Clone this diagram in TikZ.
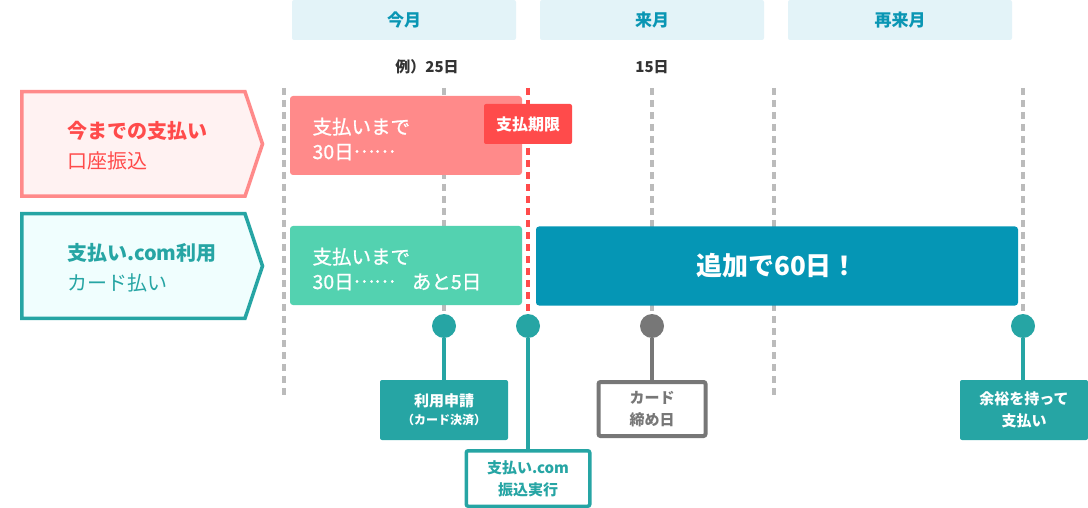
\documentclass[tikz,border=0pt]{standalone}
\usepackage{fontspec}
\setmainfont{Noto Sans CJK JP}
\newfontfamily\barfont[FakeBold=1]{Noto Sans CJK JP}
\definecolor{pinkline}{HTML}{FF8A8A}
\definecolor{pinkfill}{HTML}{FFF2F2}
\definecolor{redc}{HTML}{FF4B4B}
\definecolor{tealc}{HTML}{26A5A4}
\definecolor{tealfill}{HTML}{F0FEFE}
\definecolor{greenbar}{HTML}{53D2B0}
\definecolor{bluebar}{HTML}{0596B5}
\definecolor{hdrfill}{HTML}{E3F3F8}
\definecolor{hdrtext}{HTML}{0A96B4}
\definecolor{dashgray}{HTML}{BBBBBB}
\definecolor{darkgray}{HTML}{777777}
\definecolor{textdark}{HTML}{333333}
\newcommand{\midellip}{\raisebox{0.33em}{……}}
\begin{document}
\begin{tikzpicture}[x=1pt,y=-1pt,
  hdr/.style={fill=hdrfill, rounded corners=2pt, minimum width=224pt, minimum height=40pt, inner sep=0pt, text=hdrtext, font=\fontsize{17}{20}\selectfont\bfseries},
  daylbl/.style={text=textdark, font=\fontsize{15}{17}\selectfont\bfseries, inner sep=0pt},
  vdash/.style={draw=dashgray, line width=4pt, dash pattern=on 7pt off 5pt},
  reddash/.style={draw=redc, line width=4pt, dash pattern=on 7pt off 5pt},
  pent/.style={line width=3.5pt, line join=miter},
  penttext/.style={anchor=west, align=left, inner sep=0pt, font=\fontsize{20}{30}\selectfont},
  bar/.style={rounded corners=3pt, minimum height=79pt, inner sep=0pt, text=white},
  bartext/.style={align=left, font=\barfont\fontsize{19.5}{25}\selectfont},
  dot/.style={circle, minimum size=24pt, inner sep=0pt},
  conn/.style={line width=4pt},
  evbox/.style={rounded corners=2pt, inner sep=0pt, align=center, font=\fontsize{15}{22}\selectfont\bfseries},
]
\useasboundingbox (0,0) rectangle (1088,508);

% month headers
\node[hdr] (m1) at (404,20) {今月};
\node[hdr] (m2) at (652,20) {来月};
\node[hdr] (m3) at (900,20) {再来月};

\node[daylbl] (d1) at (427,67) {例）25日};
\node[daylbl] (d2) at (652,67) {15日};

% dashed guide lines
\coordinate (g1t) at (284,88); \coordinate (g1b) at (284,395);
\coordinate (g2t) at (444,88); \coordinate (g2b) at (444,395);
\coordinate (g3t) at (652,88); \coordinate (g3b) at (652,330);
\coordinate (g4t) at (774,88); \coordinate (g4b) at (774,395);
\coordinate (g5t) at (1023,88); \coordinate (g5b) at (1023,330);
\coordinate (rdt) at (528,88); \coordinate (rdb) at (528,318);
\draw[vdash] (g1t) -- (g1b);
\draw[vdash] (g2t) -- (g2b);
\draw[vdash] (g3t) -- (g3b);
\draw[vdash] (g4t) -- (g4b);
\draw[vdash] (g5t) -- (g5b);
\draw[reddash] (rdt) -- (rdb);

% left labels (pentagons)
\draw[pent, draw=pinkline, fill=pinkfill] (21.75,91.75) -- (245,91.75) -- (262.5,144) -- (245,196.25) -- (21.75,196.25) -- cycle;
\node[penttext, text=redc] (p1) at (67,146) {\textbf{今までの支払い}\\口座振込};
\draw[pent, draw=tealc, fill=tealfill] (21.75,213.75) -- (245,213.75) -- (262.5,266) -- (245,318.25) -- (21.75,318.25) -- cycle;
\node[penttext, text=tealc] (p2) at (67,268) {\textbf{支払い.com利用}\\カード払い};

% bars
\node[bar, fill=pinkline, minimum width=232pt] (pb) at (406,135.5) {};
\node[bartext, text=white, anchor=west] (pbt) at (309,139) {支払いまで\\30日\midellip};
\node[rounded corners=2pt, fill=redc, minimum width=88pt, minimum height=40pt, inner sep=0pt, text=white, font=\fontsize{16}{18}\selectfont\bfseries] (lim) at (528,124) {支払期限};

\node[bar, fill=greenbar, minimum width=232pt] (gb) at (406,265.5) {};
\node[bartext, text=white, anchor=west] (gbt) at (309,269) {支払いまで\\30日\midellip\hspace{17pt}あと5日};

\node[bar, fill=bluebar, minimum width=482pt, font=\fontsize{26}{30}\selectfont\bfseries] (bb) at (777,266) {追加で60日！};

% event dots
\node[dot, fill=tealc] (c1) at (444,326) {};
\node[dot, fill=tealc] (c2) at (528,326) {};
\node[dot, fill=darkgray] (c3) at (652,326) {};
\node[dot, fill=tealc] (c4) at (1023,326) {};

% event boxes
\node[evbox, fill=tealc, text=white, minimum width=128pt, minimum height=60pt] (b1) at (444,410) {利用申請\\[-4pt]{\fontsize{12}{14}\selectfont （カード決済）}};
\node[evbox, draw=tealc, line width=3.5pt, fill=white, text=tealc, minimum width=123.5pt, minimum height=55.5pt] (b2) at (528,478.5) {支払い.com\\振込実行};
\node[evbox, draw=darkgray, line width=4pt, fill=white, text=darkgray, minimum width=107pt, minimum height=54pt] (b3) at (652,409) {カード\\締め日};
\node[evbox, fill=tealc, text=white, minimum width=128pt, minimum height=60pt] (b4) at (1024,410) {余裕を持って\\支払い};

% connectors
\draw[conn, tealc] (c1) -- (b1);
\draw[conn, tealc] (c2) -- (b2);
\draw[conn, darkgray] (c3) -- (b3);
\draw[conn, tealc] (c4) -- (b4.north -| c4);
\end{tikzpicture}
\end{document}
